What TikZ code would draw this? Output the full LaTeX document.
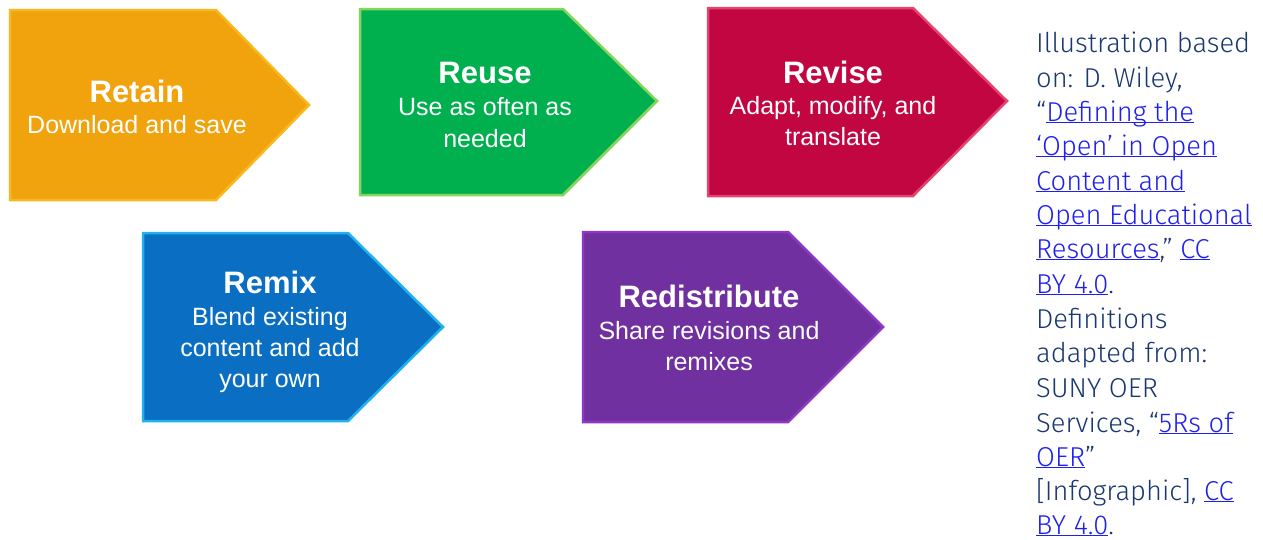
\documentclass[tikz,border=0pt]{standalone}
\usepackage{fontspec}
\setmainfont{Liberation Sans}
\newfontfamily\notefont{Fira Sans}[UprightFont={* Light}]
\definecolor{orangefill}{HTML}{F0A30C}
\definecolor{orangeline}{HTML}{F7B820}
\definecolor{greenfill}{HTML}{00B04F}
\definecolor{greenline}{HTML}{86D45C}
\definecolor{redfill}{HTML}{C10641}
\definecolor{redline}{HTML}{E3456E}
\definecolor{bluefill}{HTML}{0A6FC2}
\definecolor{blueline}{HTML}{22B0EE}
\definecolor{purplefill}{HTML}{7030A0}
\definecolor{purpleline}{HTML}{8C38C4}
\definecolor{notecolor}{HTML}{1B3770}
\definecolor{linkcolor}{HTML}{1F1FEF}
\newcommand{\lnk}[1]{{\color{linkcolor}\underline{\smash{#1}}}}
\tikzset{
  chevshape/.style={line width=2.5pt, line join=miter},
  ttl/.style={anchor=base, text=white, inner sep=0pt, font=\bfseries\fontsize{31}{32}\selectfont},
  sub/.style={anchor=base, text=white, inner sep=0pt, font=\fontsize{25}{30}\selectfont},
  note/.style={anchor=base west, text=notecolor, inner sep=0pt, font=\notefont\fontsize{27.3}{34}\selectfont},
}
\begin{document}
\begin{tikzpicture}[x=1pt, y=-1pt]
\useasboundingbox (0,0) rectangle (1263,539);
% Retain
\path[chevshape, fill=orangefill, draw=orangeline] (10,10) -- (216,10) -- (309,105) -- (216,200) -- (10,200) -- cycle;
\node[ttl] (retainT) at (137,102) {Retain};
\node[sub] (retainS) at (137,133) {Download and save};
% Reuse
\path[chevshape, fill=greenfill, draw=greenline] (360,9) -- (563,9) -- (657,101) -- (563,195) -- (360,195) -- cycle;
\node[ttl] (reuseT) at (485,83) {Reuse};
\node[sub] (reuseS1) at (485,115) {Use as often as};
\node[sub] (reuseS2) at (485,147) {needed};
% Revise
\path[chevshape, fill=redfill, draw=redline] (708,8) -- (913,8) -- (1007,101) -- (913,196) -- (708,196) -- cycle;
\node[ttl] (reviseT) at (833,83) {Revise};
\node[sub] (reviseS1) at (833,114) {Adapt, modify, and};
\node[sub] (reviseS2) at (833,145) {translate};
% Remix
\path[chevshape, fill=bluefill, draw=blueline] (143,233) -- (348,233) -- (443,327) -- (348,421) -- (143,421) -- cycle;
\node[ttl] (remixT) at (270,293) {Remix};
\node[sub] (remixS1) at (270,325) {Blend existing};
\node[sub] (remixS2) at (270,356) {content and add};
\node[sub] (remixS3) at (270,387) {your own};
% Redistribute
\path[chevshape, fill=purplefill, draw=purpleline] (583,232) -- (788,232) -- (883,327) -- (788,422) -- (583,422) -- cycle;
\node[ttl] (redistT) at (709,307) {Redistribute};
\node[sub] (redistS1) at (709,339) {Share revisions and};
\node[sub] (redistS2) at (709,370) {remixes};
% Attribution
\node[note] (n1) at (1036,52) {Illustration based};
\node[note] (n2) at (1036,87) {on: D. Wiley,};
\node[note] (n3) at (1036,121) {“\lnk{Defining the}};
\node[note] (n4) at (1036,155) {\lnk{‘Open’ in Open}};
\node[note] (n5) at (1036,190) {\lnk{Content and}};
\node[note] (n6) at (1036,224) {\lnk{Open Educational}};
\node[note] (n7) at (1036,258) {\lnk{Resources},” \lnk{CC}};
\node[note] (n8) at (1036,293) {\lnk{BY 4.0}.};
\node[note] (n9) at (1036,328) {Definitions};
\node[note] (n10) at (1036,362) {adapted from:};
\node[note] (n11) at (1036,397) {SUNY OER};
\node[note] (n12) at (1036,432) {Services, “\lnk{5Rs of}};
\node[note] (n13) at (1036,466) {\lnk{OER}”};
\node[note] (n14) at (1036,500) {[Infographic], \lnk{CC}};
\node[note] (n15) at (1036,534) {\lnk{BY 4.0}.};
\end{tikzpicture}
\end{document}
